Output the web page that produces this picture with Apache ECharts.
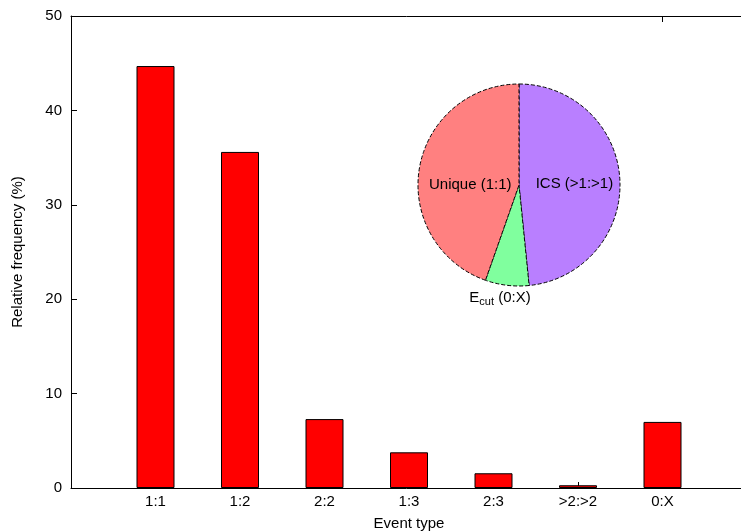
<!DOCTYPE html>
<html>
<head>
<meta charset="utf-8">
<script src="https://cdn.jsdelivr.net/npm/echarts@6/dist/echarts.min.js"></script>
<style>html,body{margin:0;padding:0;background:#fff;}#c{width:741px;height:531px;}</style>
</head>
<body>
<div id="c"></div>
<script>
var categories = ['1:1', '1:2', '2:2', '1:3', '2:3', '>2:>2', '0:X'];
var frequencies = [44.7, 35.6, 7.3, 3.78, 1.56, 0.29, 7.0];
var yTicks = [0, 10, 20, 30, 40, 50];
var pieNames = ['ICS (>1:>1)', 'E{sub|cut} (0:X)', 'Unique (1:1)'];
var pieValues = [48.5, 7.0, 44.7];
var pieColors = ['#b97fff', '#80ff9e', '#ff8080'];

var FONT = '"Liberation Sans", Arial, Helvetica, sans-serif';
var FS = 15;
var chart = echarts.init(document.getElementById('c'), null, {renderer: 'canvas'});
var labelShift = [[2, 2], [-2, 13], [4, 9]];

chart.setOption({
  animation: false,
  backgroundColor: '#fff',
  textStyle: {fontFamily: FONT},
  grid: {left: 71, top: 16, bottom: 43, right: -6, containLabel: false, outerBoundsMode: 'none'},
  xAxis: [{
    type: 'value', min: 0, max: 8, interval: 1, position: 'bottom',
    axisLine: {show: true, lineStyle: {color: '#000', width: 1}},
    axisTick: {show: true, inside: true, length: 6, lineStyle: {color: '#000'}},
    splitLine: {show: false},
    axisLabel: {fontSize: FS, color: '#000', fontFamily: FONT, margin: 6,
      formatter: function (v) { return categories[v - 1] || ''; }},
    name: 'Event type', nameLocation: 'middle', nameGap: 28,
    nameTextStyle: {fontSize: FS, color: '#000', fontFamily: FONT}
  }, {
    type: 'value', min: 0, max: 8, position: 'top',
    axisLine: {show: true, lineStyle: {color: '#000', width: 1}},
    axisTick: {show: true, inside: true, length: 6, customValues: [categories.length], lineStyle: {color: '#000'}},
    axisLabel: {show: false},
    splitLine: {show: false}
  }],
  yAxis: {
    type: 'value', min: yTicks[0], max: yTicks[yTicks.length - 1], interval: 10,
    axisLine: {show: true, lineStyle: {color: '#000', width: 1}},
    axisTick: {show: true, inside: true, length: 6, lineStyle: {color: '#000'}},
    splitLine: {show: false},
    axisLabel: {fontSize: FS, color: '#000', fontFamily: FONT, margin: 9},
    name: 'Relative frequency (%)', nameLocation: 'middle', nameGap: 46, nameRotate: 90,
    nameTextStyle: {fontSize: FS, color: '#000', fontFamily: FONT}
  },
  series: [{
    type: 'bar',
    xAxisIndex: 0,
    barWidth: 38,
    data: categories.map(function (c, i) { return [i + 1, frequencies[i]]; }),
    itemStyle: {color: '#ff0000', borderColor: '#000', borderWidth: 1},
    emphasis: {disabled: true}
  }, {
    type: 'pie',
    center: [519, 185],
    radius: 101,
    startAngle: 90,
    clockwise: true,
    avoidLabelOverlap: false,
    emphasis: {disabled: true},
    itemStyle: {borderColor: '#000', borderWidth: 1, borderType: 'dashed'},
    labelLayout: function (p) {
      var s = labelShift[p.dataIndex];
      return {dx: s[0], dy: s[1], align: 'center'};
    },
    data: pieNames.map(function (n, i) {
      return {
        name: n, value: pieValues[i],
        itemStyle: {color: pieColors[i]},
        label: i === 1 ? {position: 'outside'} : {position: 'inside'},
        labelLine: {show: false, length: 0, length2: 0}
      };
    }),
    label: {
      show: true, color: '#000', fontSize: FS, fontFamily: FONT,
      formatter: function (p) { return p.name; },
      rich: {sub: {fontSize: 11, color: '#000', fontFamily: FONT, padding: [7, 0, 0, 0]}}
    }
  }]
});
</script>
</body>
</html>
